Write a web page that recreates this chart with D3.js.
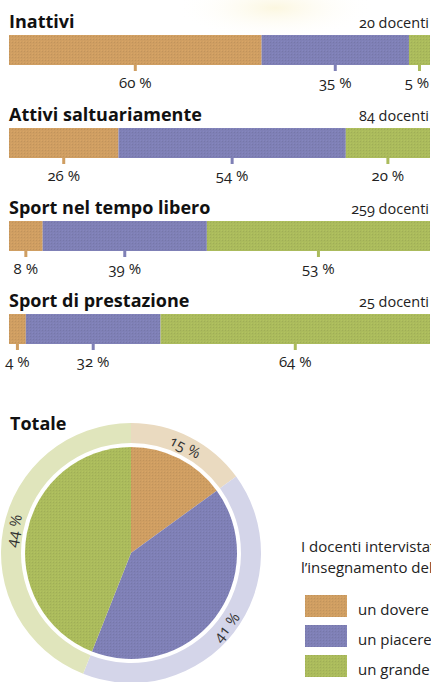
<!DOCTYPE html>
<html>
<head>
<meta charset="utf-8">
<script src="https://cdn.jsdelivr.net/npm/d3@7"></script>
<style>
  html, body { margin: 0; padding: 0; background: #fff; overflow: hidden; }
  svg { display: block; font-family: "Open Sans", "Noto Sans", sans-serif; font-variant-numeric: oldstyle-nums; }
</style>
</head>
<body>
<svg width="431" height="682"></svg>
<script>
// data
const groups = ["Inattivi", "Attivi saltuariamente", "Sport nel tempo libero", "Sport di prestazione"];
const counts = [20, 84, 259, 25];
const dovere = [60, 26, 8, 4];
const piacere = [35, 54, 39, 32];
const grande = [5, 20, 53, 64];
const totale = [15, 41, 44];
const legendLabels = ["un dovere", "un piacere", "un grande"];
const introLines = ["I docenti intervistati", "l’insegnamento dello"];

const colors = ["#cf9e62", "#7f80b6", "#abbb5c"];
const lightColors = ["#eadac0", "#d4d5e9", "#e0e5bc"];

const svg = d3.select("svg");

// faint yellow glow at the top of the page
const defs = svg.append("defs");
const glow = defs.append("radialGradient").attr("id", "glow");
glow.append("stop").attr("offset", "0%").attr("stop-color", "#fcf7e0");
glow.append("stop").attr("offset", "100%").attr("stop-color", "#ffffff").attr("stop-opacity", 0);
svg.append("ellipse").attr("cx", 275).attr("cy", 8).attr("rx", 100).attr("ry", 32).attr("fill", "url(#glow)");

// light halftone texture on the fills
colors.forEach((c, i) => {
    const p = defs.append("pattern").attr("id", "tex" + i)
        .attr("width", 3).attr("height", 3).attr("patternUnits", "userSpaceOnUse");
    p.append("rect").attr("width", 3).attr("height", 3).attr("fill", c);
    p.append("rect").attr("width", 1).attr("height", 1).attr("fill", d3.color(c).darker(0.2));
    p.append("rect").attr("x", 2).attr("y", 2).attr("width", 1).attr("height", 1).attr("fill", d3.color(c).brighter(0.12));
});

const x = d3.scaleLinear().domain([0, 100]).range([9, 430]);
const rowStep = 93, barTop = 35, barH = 30;

groups.forEach((name, i) => {
    const g = svg.append("g").attr("transform", `translate(0,${i * rowStep})`);
    const vals = [dovere[i], piacere[i], grande[i]];
    const stacked = [];
    let acc = 0;
    vals.forEach((v, k) => { stacked.push({k, v, x0: acc, x1: acc + v}); acc += v; });

    g.append("text")
        .attr("x", 9).attr("y", barTop - 7)
        .attr("font-size", 18).attr("font-weight", 700).attr("fill", "#111")
        .text(name);

    g.append("text")
        .attr("x", 429).attr("y", barTop - 7)
        .attr("text-anchor", "end")
        .attr("font-size", 14.5).attr("fill", "#222")
        .text(counts[i] + " docenti");

    g.selectAll("rect.seg").data(stacked).enter().append("rect")
        .attr("class", "seg")
        .attr("x", d => x(d.x0))
        .attr("width", d => x(d.x1) - x(d.x0))
        .attr("y", barTop).attr("height", barH)
        .attr("fill", d => `url(#tex${d.k})`);

    g.selectAll("rect.tick").data(stacked).enter().append("rect")
        .attr("class", "tick")
        .attr("x", d => x((d.x0 + d.x1) / 2) - 1.5)
        .attr("width", 3)
        .attr("y", barTop + barH).attr("height", 6)
        .attr("fill", d => colors[d.k]);

    g.selectAll("text.pct").data(stacked).enter().append("text")
        .attr("class", "pct")
        .attr("x", d => Math.min(x((d.x0 + d.x1) / 2), 417))
        .attr("y", barTop + barH + 23)
        .attr("text-anchor", "middle")
        .attr("font-size", 15).attr("fill", "#222")
        .text(d => d.v + " %");
});

// Totale pie
svg.append("text")
    .attr("x", 10).attr("y", 430)
    .attr("font-size", 18).attr("font-weight", 700).attr("fill", "#111")
    .text("Totale");

const cx = 131, cy = 553;
const pie = d3.pie().sort(null).value(d => d)(totale);
const pg = svg.append("g").attr("transform", `translate(${cx},${cy})`);

pg.selectAll("path.ring").data(pie).enter().append("path")
    .attr("class", "ring")
    .attr("d", d3.arc().innerRadius(110).outerRadius(130))
    .attr("fill", (d, i) => lightColors[i]);

pg.selectAll("path.slice").data(pie).enter().append("path")
    .attr("class", "slice")
    .attr("d", d3.arc().innerRadius(0).outerRadius(106))
    .attr("fill", (d, i) => `url(#tex${i})`);

pg.selectAll("text.plabel").data(pie).enter().append("text")
    .attr("class", "plabel")
    .attr("transform", d => {
        const a = (d.startAngle + d.endAngle) / 2;
        const r = 120;
        const deg = a * 180 / Math.PI;
        const rot = (deg > 90 && deg < 270) ? deg - 180 : deg;
        return `translate(${r * Math.sin(a)},${-r * Math.cos(a)}) rotate(${rot})`;
    })
    .attr("text-anchor", "middle")
    .attr("dominant-baseline", "central")
    .attr("font-size", 15).attr("fill", "#333")
    .text(d => d.data + " %");

// legend
svg.selectAll("text.intro").data(introLines).enter().append("text")
    .attr("class", "intro")
    .attr("x", 301).attr("y", (d, i) => 552 + i * 21)
    .attr("font-size", 15).attr("fill", "#222")
    .text(d => d);

const lg = svg.selectAll("g.leg").data(legendLabels).enter().append("g")
    .attr("class", "leg")
    .attr("transform", (d, i) => `translate(305,${595 + i * 30})`);
lg.append("rect").attr("width", 42).attr("height", 22).attr("fill", (d, i) => `url(#tex${i})`);
lg.append("text").attr("x", 53).attr("y", 20)
    .attr("font-size", 15).attr("fill", "#222")
    .text(d => d);
</script>
</body>
</html>
